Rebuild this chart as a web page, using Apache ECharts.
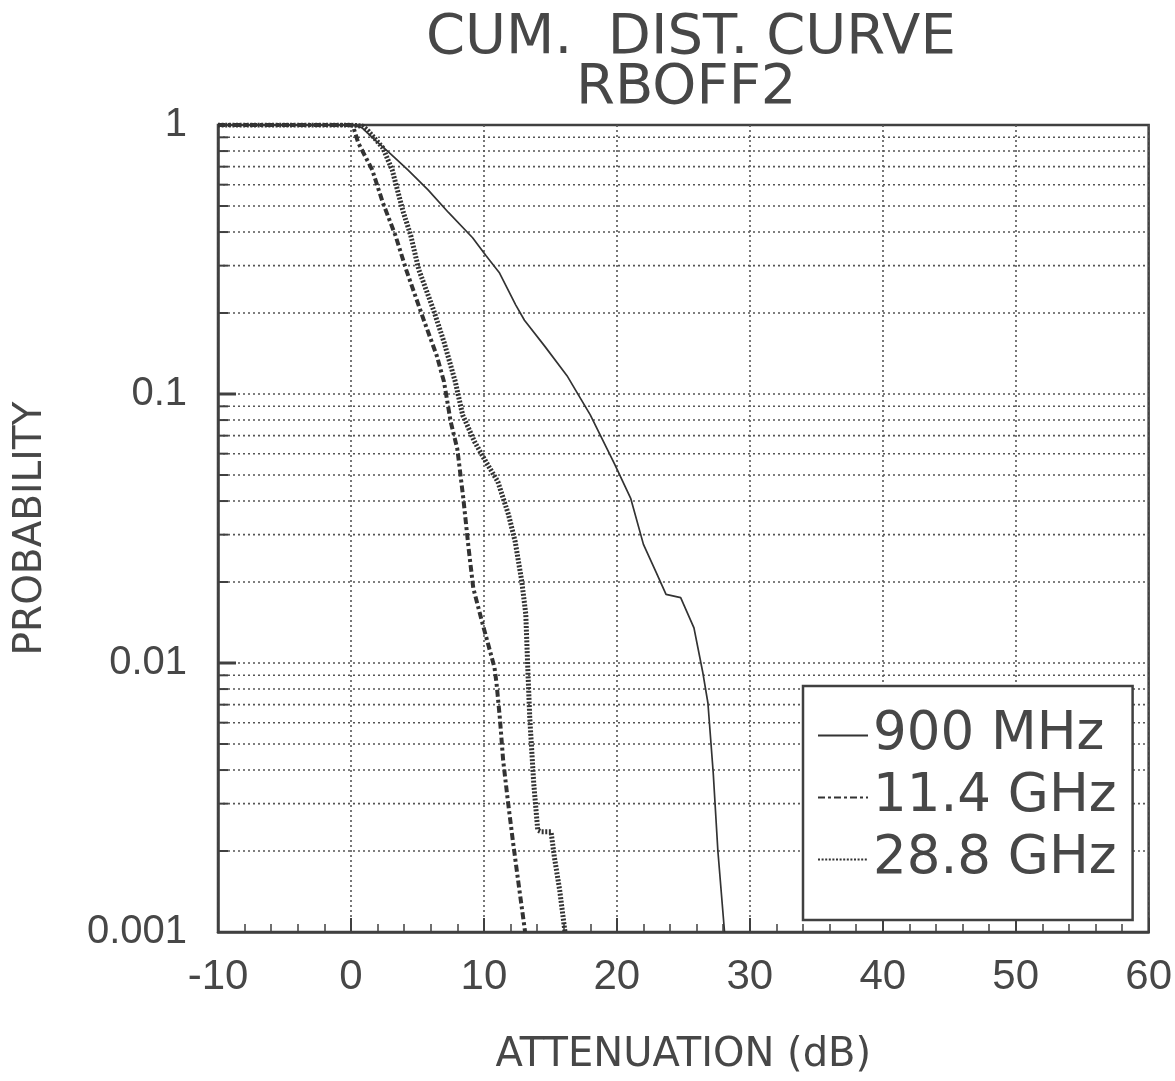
<!DOCTYPE html>
<html>
<head>
<meta charset="utf-8">
<script src="https://cdn.jsdelivr.net/npm/echarts@6/dist/echarts.min.js"></script>
<style>
  html, body { margin: 0; padding: 0; background: #fff; }
  #chart { width: 1175px; height: 1081px; }
</style>
</head>
<body>
<div id="chart"></div>
<script>
// Cumulative distribution of attenuation, RBOFF2 run: [attenuation dB, probability]
const seriesNames = ['900 MHz', '11.4 GHz', '28.8 GHz'];

const mhz900 = [
  [-10, 1], [0, 1], [0.8, 0.98], [1.8, 0.88], [3.0, 0.78], [4.3, 0.68], [5.8, 0.574],
  [7.35, 0.472], [9.15, 0.381], [10.15, 0.327], [11.15, 0.283], [12.4, 0.214],
  [13.05, 0.188], [14.6, 0.15], [16.25, 0.117], [18.0, 0.0836], [19.85, 0.0546],
  [21.05, 0.0408], [22.0, 0.0276], [23.0, 0.0215], [23.7, 0.018], [24.8, 0.0175],
  [25.8, 0.0135], [26.45, 0.0093], [26.85, 0.0071], [27.25, 0.0039], [27.6, 0.002],
  [28.1, 0.001]
];

const ghz114 = [
  [-10, 1], [0, 1], [0.2, 0.975], [0.55, 0.858], [1.6, 0.681], [2.4, 0.514],
  [3.35, 0.388], [4.15, 0.29], [5.45, 0.19], [6.45, 0.139], [7.0, 0.111],
  [7.5, 0.079], [8.0, 0.0625], [8.45, 0.041], [8.85, 0.0267], [9.2, 0.019],
  [9.85, 0.0143], [10.8, 0.0096], [10.95, 0.0084], [11.2, 0.00625], [11.45, 0.00434],
  [11.8, 0.00308], [12.2, 0.00214], [12.6, 0.00152], [13.1, 0.001]
];

const ghz288 = [
  [-10, 1], [0, 1], [0.9, 0.99], [1.3, 0.95], [2.4, 0.822], [3.1, 0.681],
  [3.55, 0.56], [3.95, 0.472], [4.5, 0.388], [5.1, 0.29], [6.2, 0.206],
  [7.0, 0.156], [7.85, 0.111], [8.4, 0.0836], [9.3, 0.0664], [10.15, 0.056],
  [11.05, 0.0472], [11.85, 0.0356], [12.35, 0.0283], [12.85, 0.0201], [13.15, 0.0152],
  [13.3, 0.0096], [13.45, 0.00625], [13.75, 0.00356], [14.05, 0.00239], [14.3, 0.00236],
  [15.05, 0.00236], [15.3, 0.0019], [15.7, 0.00143], [16.1, 0.001]
];

// Axis ranges and labels
const xMin = -10, xMax = 60, xStep = 10;
const yTickLabels = ['0.001', '0.01', '0.1', '1'];
const decadeStarts = [0.001, 0.01, 0.1];
const mantissas = [1, 2, 3, 4, 5, 6, 7, 8, 9];

// Horizontal rules at every 1..9 x 10^k inside the frame
const gridRows = [];
decadeStarts.forEach(d => mantissas.forEach(m => {
  const v = +(d * m).toPrecision(3);
  if (v > 0.001 && v < 1) gridRows.push([xMin, v]);
}));

const ink = '#404040';
const curveInk = '#333';
const textColor = '#474747';
const tickFont = "'Liberation Sans', Arial, sans-serif";
const bigFont = "'DejaVu Sans', 'Liberation Sans', sans-serif";

const chart = echarts.init(document.getElementById('chart'), null, { renderer: 'canvas' });

chart.setOption({
  backgroundColor: '#fff',
  animation: false,
  title: [
    { text: 'CUM.  DIST. CURVE', left: 421, top: 5,
      textStyle: { fontFamily: bigFont, fontSize: 56, fontWeight: 'normal', color: textColor } },
    { text: 'RBOFF2', left: 571, top: 55,
      textStyle: { fontFamily: bigFont, fontSize: 56, fontWeight: 'normal', color: textColor } }
  ],
  grid: {
    left: 218, right: 25, top: 125, bottom: 147,
    show: true, borderColor: ink, borderWidth: 2.5, backgroundColor: 'transparent'
  },
  legend: {
    data: seriesNames,
    orient: 'vertical',
    left: 803, top: 686,
    padding: [23, 16, 34, 14],
    itemGap: 9,
    itemWidth: 50,
    itemHeight: 14,
    backgroundColor: '#fff',
    borderColor: ink,
    borderWidth: 2.5,
    borderRadius: 0,
    itemStyle: { opacity: 0 },
    textStyle: { fontFamily: bigFont, fontSize: 53, lineHeight: 53, color: textColor },
    z: 10
  },
  xAxis: {
    type: 'value',
    min: xMin, max: xMax, interval: xStep,
    name: 'ATTENUATION (dB)',
    nameLocation: 'middle',
    nameGap: 104,
    nameTextStyle: { fontFamily: bigFont, fontSize: 40, color: textColor },
    axisLine: { show: true, onZero: false, lineStyle: { color: ink, width: 2.5 } },
    axisTick: { show: true, inside: true, length: 14, lineStyle: { color: ink, width: 2 } },
    minorTick: { show: true, splitNumber: 5, length: 8, lineStyle: { color: ink, width: 1.5 } },
    axisLabel: { fontFamily: tickFont, fontSize: 42, color: textColor, margin: 24 },
    splitLine: { show: true, lineStyle: { color: '#555', width: 1.6, type: [2, 3] } }
  },
  yAxis: {
    type: 'log',
    logBase: 10,
    min: 0.001, max: 1,
    name: 'PROBABILITY',
    nameLocation: 'middle',
    nameGap: 168,
    nameRotate: 90,
    nameTextStyle: { fontFamily: bigFont, fontSize: 39, color: textColor },
    axisLine: { show: true, onZero: false, lineStyle: { color: ink, width: 2.5 } },
    axisTick: { show: false },
    axisLabel: {
      fontFamily: tickFont, fontSize: 40, color: textColor, margin: 31,
      formatter: v => yTickLabels[Math.round(Math.log10(v)) + 3]
    },
    splitLine: { show: false }
  },
  series: [
    {
      name: 'grid rows',
      type: 'custom',
      silent: true,
      z: 1,
      clip: false,
      data: gridRows,
      renderItem: (params, api) => {
        const v = api.value(1);
        const a = api.coord([xMin, v]);
        const b = api.coord([xMax, v]);
        const lg = Math.log10(v);
        const major = Math.abs(lg - Math.round(lg)) < 1e-6;
        return {
          type: 'group',
          children: [
            { type: 'line', shape: { x1: a[0], y1: a[1], x2: b[0], y2: b[1] },
              style: { stroke: '#555', lineWidth: 1.6, lineDash: [2, 3] } },
            { type: 'line', shape: { x1: a[0], y1: a[1], x2: a[0] + (major ? 18 : 10), y2: a[1] },
              style: { stroke: ink, lineWidth: major ? 3 : 2 } }
          ]
        };
      }
    },
    {
      name: seriesNames[0], type: 'line', data: mhz900, showSymbol: false, symbol: 'none',
      z: 3, lineStyle: { color: curveInk, width: 1.7, type: 'solid' },
      itemStyle: { color: curveInk }
    },
    {
      name: seriesNames[1], type: 'line', data: ghz114, showSymbol: false, symbol: 'none',
      z: 3, lineStyle: { color: curveInk, width: 4, type: [7, 3, 3, 3] },
      itemStyle: { color: curveInk }
    },
    {
      name: seriesNames[2], type: 'line', data: ghz288, showSymbol: false, symbol: 'none',
      z: 3, lineStyle: { color: curveInk, width: 5, type: [2, 1.6] },
      itemStyle: { color: curveInk }
    }
  ]
});
</script>
</body>
</html>
